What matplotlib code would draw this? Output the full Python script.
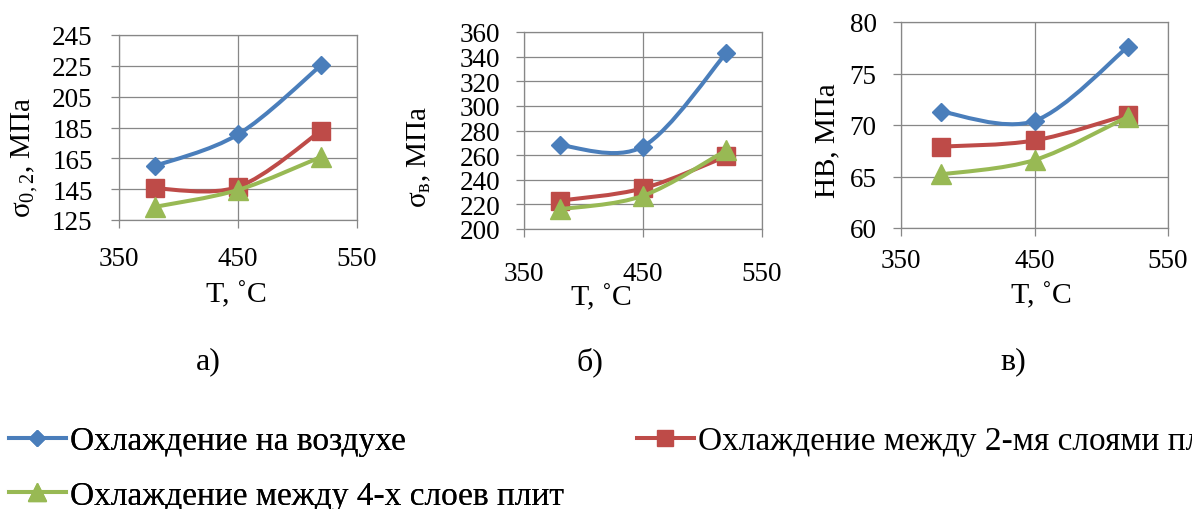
import matplotlib
matplotlib.use('Agg')
import matplotlib.pyplot as plt
from matplotlib.path import Path
from matplotlib.patches import PathPatch
from matplotlib.lines import Line2D

plt.rcParams['font.family'] = 'serif'
plt.rcParams['font.serif'] = ['Liberation Serif', 'DejaVu Serif']
plt.rcParams['mathtext.fontset'] = 'custom'
plt.rcParams['mathtext.rm'] = 'Liberation Serif'
plt.rcParams['mathtext.it'] = 'Liberation Serif:italic'
plt.rcParams['mathtext.default'] = 'rm'

# ---------------- data ----------------
temperatures = [380, 450, 520]
series_names = ['Охлаждение на воздухе',
                'Охлаждение между 2-мя слоями плит',
                'Охлаждение между 4-х слоев плит']

sigma02_air = [160, 180.5, 225.5]
sigma02_two = [145.5, 146.5, 183]
sigma02_four = [133.5, 144.5, 166]

sigmab_air = [268, 267, 343]
sigmab_two = [223, 233, 259]
sigmab_four = [216, 227, 264]

hb_air = [71.3, 70.4, 77.6]
hb_two = [67.9, 68.5, 71.0]
hb_four = [65.2, 66.6, 70.8]

x_ticks = [350, 450, 550]
yticks_a = [125, 145, 165, 185, 205, 225, 245]
yticks_b = [200, 220, 240, 260, 280, 300, 320, 340, 360]
yticks_c = [60, 65, 70, 75, 80]

ylabel_a = 'σ$_{0,2}$, МПа'
ylabel_b = 'σ$_{в}$, МПа'
ylabel_c = 'НВ, МПа'
xlabel_text = 'T, ˚C'
panel_tags = ['а)', 'б)', 'в)']

# ---------------- style ----------------
colors = ['#4A7EBB', '#BE4B48', '#98B954']
markers = ['D', 's', '^']
msizes = [9.5, 12.5, 14]
grid_color = '#878787'
W, H = 1192, 510
SERIF = 'Liberation Serif'

fig = plt.figure(figsize=(W / 100, H / 100), dpi=100)


def fx(px):
    return px / W


def fy(py):
    return 1 - py / H


def smooth_path(xs, ys):
    pts = list(zip(xs, ys))
    n = len(pts)
    verts = [pts[0]]
    codes = [Path.MOVETO]
    for i in range(n - 1):
        p0 = pts[max(i - 1, 0)]
        p1 = pts[i]
        p2 = pts[i + 1]
        p3 = pts[min(i + 2, n - 1)]
        c1 = (p1[0] + (p2[0] - p0[0]) / 6, p1[1] + (p2[1] - p0[1]) / 6)
        c2 = (p2[0] - (p3[0] - p1[0]) / 6, p2[1] - (p3[1] - p1[1]) / 6)
        verts += [c1, c2, p2]
        codes += [Path.CURVE4] * 3
    return Path(verts, codes)


panels = [
    dict(box=(119, 357, 36, 221), series=[sigma02_air, sigma02_two, sigma02_four],
         yticks=yticks_a, ylabel=ylabel_a, ylab_xy=(25, 157), xlab_xy=(236, 295),
         xpad=12.5, ypad=13, tag_xy=(208, 362)),
    dict(box=(524, 762, 33, 230), series=[sigmab_air, sigmab_two, sigmab_four],
         yticks=yticks_b, ylabel=ylabel_b, ylab_xy=(419, 157), xlab_xy=(601, 298),
         xpad=17, ypad=11, tag_xy=(590, 362)),
    dict(box=(901, 1168, 23, 229), series=[hb_air, hb_two, hb_four],
         yticks=yticks_c, ylabel=ylabel_c, ylab_xy=(827, 141), xlab_xy=(1041, 296),
         xpad=8.5, ypad=11.5, tag_xy=(1013, 362)),
]

for p in panels:
    l, r, t, b = p['box']
    ax = fig.add_axes([fx(l), fy(b), (r - l) / W, (b - t) / H])
    ax.set_xlim(x_ticks[0], x_ticks[-1])
    ax.set_ylim(p['yticks'][0], p['yticks'][-1])
    ax.set_xticks(x_ticks)
    ax.set_yticks(p['yticks'])
    ax.grid(True, color=grid_color, linewidth=0.9)
    ax.set_axisbelow(True)
    for s in ax.spines.values():
        s.set_color(grid_color)
        s.set_linewidth(0.9)
    ax.tick_params(axis='both', direction='out', length=6, width=0.9,
                   color=grid_color, labelsize=19.5, labelcolor='black')
    ax.tick_params(axis='x', pad=p['xpad'])
    ax.tick_params(axis='y', pad=p['ypad'])
    for lab in ax.get_xticklabels() + ax.get_yticklabels():
        lab.set_fontfamily(SERIF)

    for vals, c, m, ms in zip(p['series'], colors, markers, msizes):
        patch = PathPatch(smooth_path(temperatures, vals), fill=False, edgecolor=c,
                          lw=2.9, capstyle='round', joinstyle='round',
                          transform=ax.transData, zorder=3)
        ax.add_patch(patch)
        ax.plot(temperatures, vals, linestyle='none', marker=m, markersize=ms,
                color=c, markeredgecolor=c, zorder=3, clip_on=False)

    fig.text(fx(p['ylab_xy'][0]), fy(p['ylab_xy'][1]), p['ylabel'], rotation=90,
             ha='center', va='center', fontsize=21, family=SERIF)
    fig.text(fx(p['xlab_xy'][0]), fy(p['xlab_xy'][1]), xlabel_text,
             ha='center', va='center', fontsize=21.5, family=SERIF)

for p, tag in zip(panels, panel_tags):
    fig.text(fx(p['tag_xy'][0]), fy(p['tag_xy'][1]), tag, ha='center', va='center',
             fontsize=23, family=SERIF)

handles = [Line2D([], [], color=c, lw=2.9, marker=m, markersize=ms * 0.9,
                  markeredgecolor=c) for c, m, ms in zip(colors, markers, msizes)]

leg_font = {'family': SERIF, 'size': 24}
leg1 = fig.legend([handles[0], handles[2]], [series_names[0], series_names[2]],
                  loc='upper left', bbox_to_anchor=(fx(9), fy(427)), frameon=False,
                  prop=leg_font, handlelength=1.7, handletextpad=0.12,
                  labelspacing=0.72, borderpad=0, borderaxespad=0)
fig.add_artist(leg1)
leg2 = fig.legend([handles[1]], [series_names[1]],
                  loc='upper left', bbox_to_anchor=(fx(637), fy(427)), frameon=False,
                  prop=leg_font, handlelength=1.7, handletextpad=0.12,
                  borderpad=0, borderaxespad=0)

fig.savefig('out.png', dpi=100)
